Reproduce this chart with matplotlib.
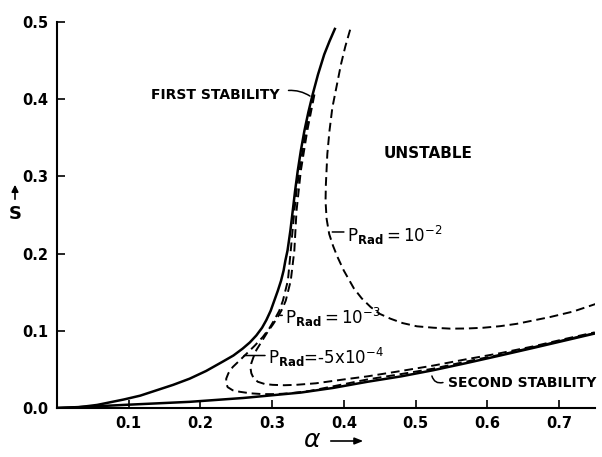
import matplotlib
matplotlib.use("Agg")
import matplotlib.pyplot as plt
from matplotlib.patches import FancyArrowPatch

plt.rcParams['font.family'] = ['DejaVu Sans']
plt.rcParams['mathtext.fontset'] = 'dejavusans'

# First stability boundary (solid).
first_alpha = [0.0, 0.03, 0.056, 0.093, 0.116, 0.139, 0.162, 0.185, 0.208,
	0.231, 0.246, 0.259, 0.269, 0.278, 0.286, 0.292, 0.298, 0.303, 0.308,
	0.3125, 0.316, 0.3185, 0.3215, 0.3255, 0.3287, 0.332, 0.3357, 0.340,
	0.345, 0.3505, 0.3565, 0.364, 0.3727, 0.380, 0.3875]
first_s = [0.0, 0.001, 0.004, 0.011, 0.016, 0.023, 0.030, 0.038, 0.048,
	0.060, 0.068, 0.077, 0.085, 0.094, 0.104, 0.114, 0.126, 0.139, 0.152,
	0.165, 0.178, 0.191, 0.204, 0.230, 0.255, 0.281, 0.307, 0.333,
	0.359, 0.383, 0.406, 0.432, 0.458, 0.475, 0.491]

# Second stability boundary (solid).
second_alpha = [0.0, 0.05, 0.093, 0.139, 0.185, 0.26, 0.34, 0.385, 0.433,
	0.48, 0.525, 0.57, 0.618, 0.665, 0.711, 0.75]
second_s = [0.0, 0.002, 0.004, 0.006, 0.008, 0.013, 0.020, 0.026, 0.034,
	0.041, 0.049, 0.058, 0.068, 0.078, 0.088, 0.0965]

# P_Rad = 1e-2 (dashed).
p2_alpha = [0.4088, 0.402, 0.396, 0.390, 0.384, 0.380, 0.377, 0.375,
	0.3745, 0.376, 0.3796, 0.385, 0.391, 0.400, 0.414, 0.425, 0.4375,
	0.450, 0.465, 0.482, 0.502, 0.525, 0.5486, 0.572, 0.595, 0.618, 0.641,
	0.6875, 0.720, 0.752]
p2_s = [0.490, 0.468, 0.445, 0.417, 0.389, 0.359, 0.329, 0.29, 0.268,
	0.245, 0.2254, 0.210, 0.196, 0.178, 0.155, 0.142, 0.1307, 0.122,
	0.1157, 0.110, 0.1058, 0.104, 0.1028, 0.103, 0.104, 0.106, 0.109,
	0.1178, 0.125, 0.135]

# P_Rad = 1e-3 (dashed).
p3_alpha = [0.358, 0.347, 0.338, 0.334, 0.331, 0.326, 0.322, 0.315, 0.310,
	0.303, 0.296, 0.287, 0.276, 0.264, 0.254, 0.245, 0.239, 0.236, 0.236,
	0.238, 0.245, 0.255, 0.270, 0.287, 0.305, 0.324, 0.352, 0.39, 0.433,
	0.48, 0.525, 0.57, 0.618, 0.665, 0.711, 0.75]
p3_s = [0.406, 0.359, 0.307, 0.281, 0.255, 0.204, 0.165, 0.139, 0.126,
	0.114, 0.103, 0.092, 0.081, 0.070, 0.061, 0.053, 0.045, 0.038, 0.032,
	0.027, 0.023, 0.021, 0.019, 0.018, 0.018, 0.019, 0.022, 0.029, 0.037,
	0.044, 0.051, 0.060, 0.069, 0.079, 0.089, 0.097]

# P_Rad = -5e-4 (dashed).
p4_alpha = [0.359, 0.349, 0.340, 0.337, 0.334, 0.331, 0.326, 0.319, 0.314,
	0.308, 0.301, 0.294, 0.286, 0.278, 0.274, 0.271, 0.270, 0.271, 0.274,
	0.280, 0.290, 0.301, 0.317, 0.333, 0.361, 0.40, 0.433, 0.48, 0.525,
	0.57, 0.618, 0.665, 0.711, 0.75]
p4_s = [0.406, 0.359, 0.307, 0.281, 0.255, 0.204, 0.165, 0.139, 0.128,
	0.118, 0.108, 0.099, 0.087, 0.075, 0.066, 0.058, 0.051, 0.045, 0.039,
	0.034, 0.031, 0.030, 0.0295, 0.030, 0.032, 0.037, 0.041, 0.048, 0.055,
	0.063, 0.071, 0.080, 0.090, 0.098]

x_ticks = [0.1, 0.2, 0.3, 0.4, 0.5, 0.6, 0.7]
x_tick_labels = ['0.1', '0.2', '0.3', '0.4', '0.5', '0.6', '0.7']
y_ticks = [0.0, 0.1, 0.2, 0.3, 0.4, 0.5]
y_tick_labels = ['0.0', '0.1', '0.2', '0.3', '0.4', '0.5']


def plot_stability():
	fig = plt.figure(figsize=(6.02, 4.57), dpi=100)
	ax = fig.add_axes([0.0947, 0.1072, 0.8933, 0.8447])

	ax.plot(first_alpha, first_s, color='black', linewidth=1.8)
	ax.plot(second_alpha, second_s, color='black', linewidth=1.8)
	dash = dict(color='black', linewidth=1.4, linestyle=(0, (4.5, 2.5)))
	ax.plot(p2_alpha, p2_s, **dash)
	ax.plot(p3_alpha, p3_s, **dash)
	ax.plot(p4_alpha, p4_s, **dash)

	ax.set_xlim(0.0, 0.75)
	ax.set_ylim(0.0, 0.5)
	ax.spines['top'].set_visible(False)
	ax.spines['right'].set_visible(False)
	ax.spines['left'].set_linewidth(1.5)
	ax.spines['bottom'].set_linewidth(1.5)
	ax.set_xticks(x_ticks)
	ax.set_xticklabels(x_tick_labels)
	ax.set_yticks(y_ticks)
	ax.set_yticklabels(y_tick_labels)
	ax.tick_params(direction='in', length=6, width=1.2, labelsize=10.5,
		pad=6)
	for label in ax.get_xticklabels() + ax.get_yticklabels():
		label.set_fontweight('bold')

	bold = dict(fontweight='bold', color='black')
	line = dict(arrowstyle='-', color='black', linewidth=1.1)

	# Region and boundary labels.
	ax.text(0.131, 0.406, 'FIRST STABILITY', va='center', ha='left',
		fontsize=10, **bold)
	ax.annotate('', xy=(0.356, 0.402), xytext=(0.319, 0.411),
		arrowprops=dict(connectionstyle='arc3,rad=-0.2', **line))
	ax.text(0.456, 0.330, 'UNSTABLE', va='center', ha='left',
		fontsize=11, **bold)
	ax.text(0.545, 0.032, 'SECOND STABILITY', va='center', ha='left',
		fontsize=10, **bold)
	ax.annotate('', xy=(0.522, 0.045), xytext=(0.542, 0.034),
		arrowprops=dict(connectionstyle='arc3,rad=-0.6', **line))

	math = dict(fontsize=12, color='black', va='center', ha='left')
	ax.text(0.404, 0.224, r'$\mathregular{P_{\mathbf{Rad}}=10^{-2}}$',
		**math)
	ax.annotate('', xy=(0.380, 0.228), xytext=(0.404, 0.228),
		arrowprops=line)
	ax.text(0.318, 0.117, r'$\mathregular{P_{\mathbf{Rad}}=10^{-3}}$',
		**math)
	ax.annotate('', xy=(0.307, 0.120), xytext=(0.318, 0.120),
		arrowprops=line)
	ax.text(0.294, 0.065, r'$\mathregular{P_{\mathbf{Rad}}}$=-5x$\mathregular{10^{-4}}$',
		**math)
	ax.annotate('', xy=(0.257, 0.068), xytext=(0.294, 0.068),
		arrowprops=line)

	# Axis labels with arrows.
	fig.text(15 / 602, 1 - 214 / 457, 'S', fontsize=13, fontweight='bold',
		ha='center', va='center')
	fig.add_artist(FancyArrowPatch(
		(15 / 602, 1 - 202 / 457), (15 / 602, 1 - 182 / 457),
		transform=fig.transFigure, arrowstyle='-|>,head_length=4,head_width=2',
		color='black', linewidth=1.2))
	fig.text(312 / 602, 1 - 440 / 457, r'$\alpha$', fontsize=18,
		ha='center', va='center')
	fig.add_artist(FancyArrowPatch(
		(328 / 602, 1 - 441 / 457), (366 / 602, 1 - 441 / 457),
		transform=fig.transFigure, arrowstyle='-|>,head_length=5,head_width=2',
		color='black', linewidth=1.2))

	fig.savefig('out.png', dpi=100)


def main():
	plot_stability()


if __name__ == '__main__':
	main()
